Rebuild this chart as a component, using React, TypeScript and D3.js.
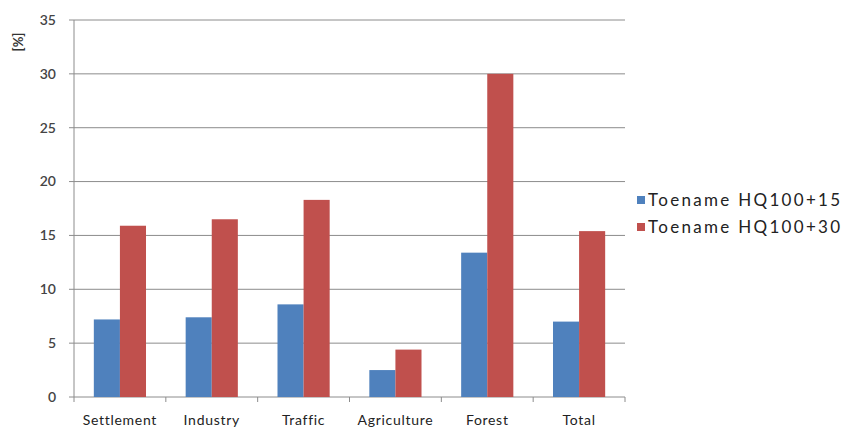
import React from 'react';
import * as d3 from 'd3';

const categories = ['Settlement', 'Industry', 'Traffic', 'Agriculture', 'Forest', 'Total'];
const series = ['Toename HQ100+15', 'Toename HQ100+30'];
const hq15 = [7.2, 7.4, 8.6, 2.5, 13.4, 7.0];
const hq30 = [15.9, 16.5, 18.3, 4.4, 30.0, 15.4];
const yTicks = [0, 5, 10, 15, 20, 25, 30, 35];
const colors = ['#4F81BD', '#C0504D'];

const W = 841;
const H = 430;
const left = 74;
const right = 625;
const top = 20;
const bottom = 397;
const font = 'Lato, "Open Sans", sans-serif';

export default function App() {
  const x0 = d3.scaleBand().domain(categories).range([left, right]).padding(0);
  const x1 = d3.scaleBand().domain(series).range([0, x0.bandwidth()]).paddingInner(0).paddingOuter(0.76);
  const y = d3.scaleLinear().domain([0, 35]).range([bottom, top]);
  const values = [hq15, hq30];
  const boundaries = [...categories.map(c => x0(c) as number), right];

  return (
    <svg width={W} height={H} style={{ position: 'absolute', left: 0, top: 0, background: '#fff' }}>
      {yTicks.map(t => (
        <g key={t}>
          <line x1={left - 5} x2={right} y1={y(t)} y2={y(t)} stroke="#8c8c8c" strokeWidth={1} />
          <text x={56} y={y(t)} dy="0.35em" textAnchor="end" fontFamily={font} fontSize={14}
            fontWeight={600} fill="#444">{t}</text>
        </g>
      ))}
      <line x1={left} x2={left} y1={top} y2={bottom} stroke="#8c8c8c" />
      {boundaries.map((b, i) => (
        <line key={i} x1={b} x2={b} y1={bottom} y2={bottom + 5} stroke="#8c8c8c" />
      ))}
      {categories.map((c, i) => (
        <g key={c}>
          {series.map((s, j) => (
            <rect key={s} x={(x0(c) as number) + (x1(s) as number)} y={y(values[j][i])}
              width={x1.bandwidth()} height={bottom - y(values[j][i])} fill={colors[j]} />
          ))}
          <text x={(x0(c) as number) + x0.bandwidth() / 2} y={420} dy="0.35em" textAnchor="middle"
            fontFamily={font} fontSize={14} letterSpacing={0.7} fill="#222">{c}</text>
        </g>
      ))}
      <text transform="translate(18,42) rotate(-90)" textAnchor="middle" dy="0.35em"
        fontFamily={font} fontSize={13} fontWeight={700} fill="#333">[%]</text>
      {series.map((s, j) => (
        <g key={s} transform={`translate(637,${200 + j * 27})`}>
          <rect x={0} y={-4} width={8} height={8} fill={colors[j]} />
          <text x={11} y={0} dy="0.35em" fontFamily={font} fontSize={17} fill="#222" letterSpacing={2.3}>{s}</text>
        </g>
      ))}
    </svg>
  );
}
